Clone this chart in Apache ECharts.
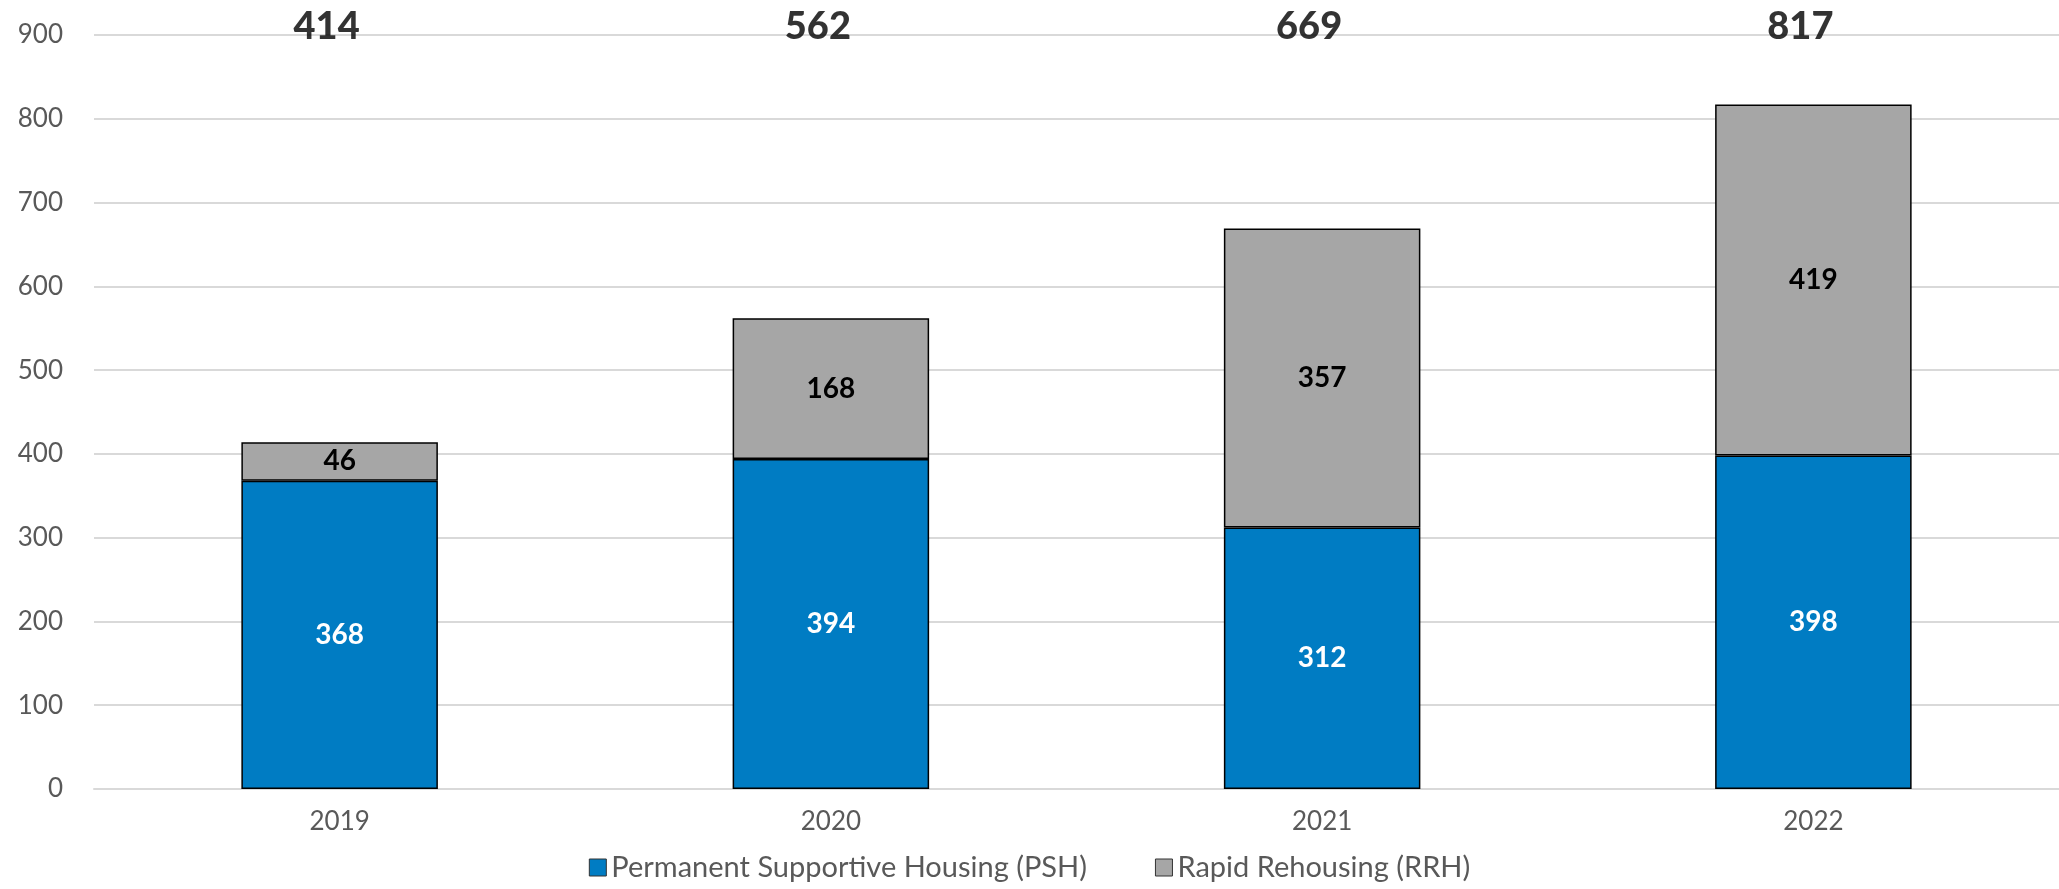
<!DOCTYPE html>
<html>
<head>
<meta charset="utf-8">
<script src="https://cdn.jsdelivr.net/npm/echarts@6/dist/echarts.min.js"></script>
<style>
  html, body { margin: 0; padding: 0; background: #fff; }
  #chart { width: 2059px; height: 889px; }
</style>
</head>
<body>
<div id="chart"></div>
<script>
const years = ['2019', '2020', '2021', '2022']
const pshValues = [368, 394, 312, 398]
const rrhValues = [46, 168, 357, 419]
const totals = [414, 562, 669, 817]

const font = 'Lato, "Open Sans", sans-serif'
const chart = echarts.init(document.getElementById('chart'))

chart.setOption({
  animation: false,
  textStyle: { fontFamily: font },
  grid: { left: 94, right: 0, top: 35, bottom: 100 },
  legend: {
    bottom: 2,
    left: 'center',
    icon: 'rect',
    data: ['Permanent Supportive Housing (PSH)', 'Rapid Rehousing (RRH)'],
    itemWidth: 17,
    itemHeight: 17,
    itemGap: 68,
    itemStyle: { borderColor: '#333', borderWidth: 1 },
    textStyle: { color: '#595959', fontSize: 29, fontFamily: font }
  },
  xAxis: {
    type: 'category',
    data: years,
    axisTick: { show: false },
    axisLine: { lineStyle: { color: '#D9D9D9', width: 2 } },
    axisLabel: { color: '#595959', fontSize: 26, margin: 20, fontFamily: font }
  },
  yAxis: {
    type: 'value',
    min: 0,
    max: 900,
    interval: 100,
    axisLabel: { color: '#595959', fontSize: 26, margin: 31, fontFamily: font },
    splitLine: { lineStyle: { color: '#D9D9D9', width: 2 } }
  },
  series: [
    {
      name: 'Permanent Supportive Housing (PSH)',
      type: 'bar',
      stack: 'total',
      barWidth: '40%',
      data: pshValues,
      itemStyle: { color: '#007CC3', borderColor: '#000', borderWidth: 1.5 },
      label: {
        show: true,
        position: 'inside',
        color: '#fff',
        fontWeight: 'bold',
        fontSize: 28,
        fontFamily: font
      }
    },
    {
      name: 'Rapid Rehousing (RRH)',
      type: 'bar',
      stack: 'total',
      barWidth: '40%',
      data: rrhValues,
      itemStyle: { color: '#A6A6A6', borderColor: '#000', borderWidth: 1.5 },
      label: {
        show: true,
        position: 'inside',
        color: '#000',
        fontWeight: 'bold',
        fontSize: 28,
        fontFamily: font
      }
    },
    {
      // totals printed along the top edge
      name: 'total',
      type: 'scatter',
      symbolSize: 0,
      data: totals.map(() => 900),
      silent: true,
      label: {
        show: true,
        position: 'inside',
        offset: [-13, -8],
        formatter: p => totals[p.dataIndex],
        color: '#000',
        fontWeight: 900,
        fontSize: 38,
        fontFamily: font
      }
    }
  ]
})
</script>
</body>
</html>
